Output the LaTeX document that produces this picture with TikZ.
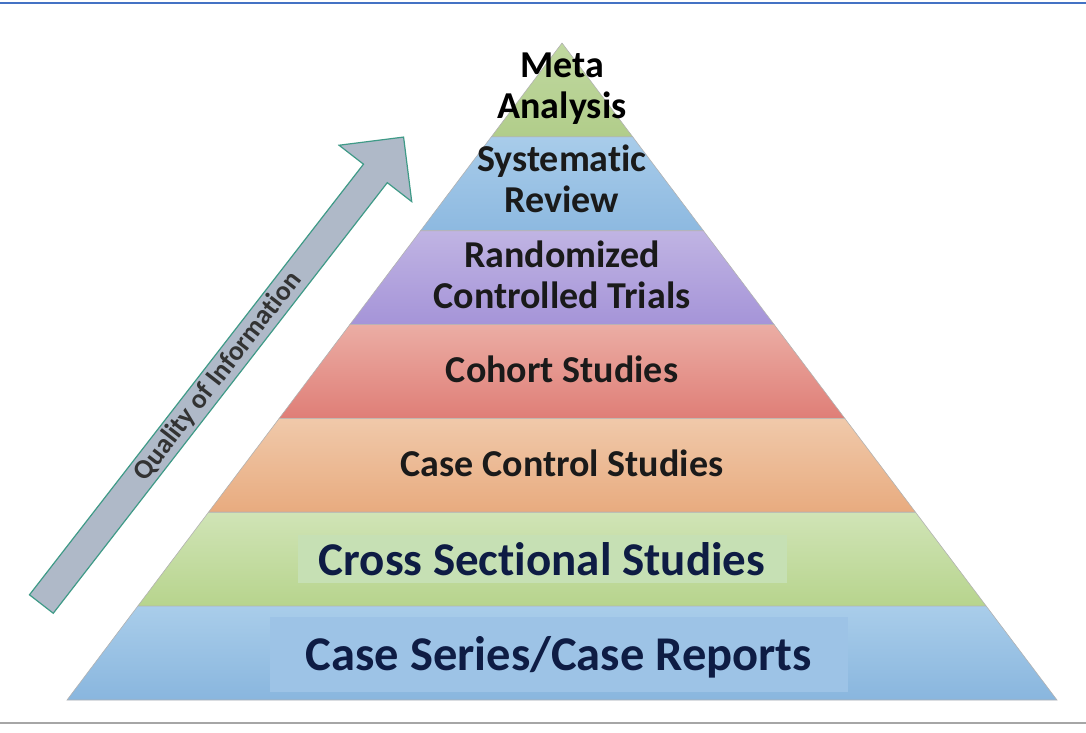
\documentclass[tikz,border=0pt]{standalone}
\usepackage{fontspec}
\setmainfont{Carlito}[Ligatures=NoCommon]
\usepackage{tikz}
\usetikzlibrary{calc,shapes.arrows}

\definecolor{metaT}{HTML}{C0D8A0}
\definecolor{metaB}{HTML}{B1CD8A}
\definecolor{sysT}{HTML}{A8CCEA}
\definecolor{sysB}{HTML}{8DB9E0}
\definecolor{rctT}{HTML}{C0B4E3}
\definecolor{rctB}{HTML}{A594D8}
\definecolor{cohT}{HTML}{EBADA4}
\definecolor{cohB}{HTML}{DF7E77}
\definecolor{ccT}{HTML}{F0C9AA}
\definecolor{ccB}{HTML}{E8AB7F}
\definecolor{csT}{HTML}{D0E4B6}
\definecolor{csB}{HTML}{B7D48D}
\definecolor{serT}{HTML}{A9CDEA}
\definecolor{serB}{HTML}{89B6DE}
\definecolor{csmark}{HTML}{C6E0B4}
\definecolor{sermark}{HTML}{9DC3E6}
\definecolor{txtdark}{HTML}{1A1A1A}
\definecolor{navy}{HTML}{0E1C44}
\definecolor{qfill}{HTML}{AFB9C8}
\definecolor{qedge}{HTML}{3F9A87}
\definecolor{rulebl}{HTML}{4472C4}

\tikzset{
  lvltext/.style={font=\bfseries\fontsize{38}{41}\selectfont, text=txtdark, align=center, inner sep=0pt},
  bigtext/.style={font=\bfseries\fontsize{47}{50}\selectfont, text=navy, inner sep=0pt},
  qarrow/.style={single arrow, fill=qfill, draw=qedge, line width=1.2pt, inner sep=0pt,
    minimum height=591pt, minimum width=92pt, single arrow head extend=25.5pt,
    single arrow tip angle=90, font=\bfseries\fontsize{27.5}{30}\selectfont, text=black!80}
}

\begin{document}
\begin{tikzpicture}[x=1pt,y=-1pt]
			\useasboundingbox (0,0) rectangle (1086,732);
			\draw[rulebl, line width=1.5pt] (0,3)--(1086,3);
			\draw[black!35, line width=1.5pt] (0,723)--(1086,723);
			\coordinate (apex) at (562,43);
			\coordinate (bl) at (67,700);
			\coordinate (br) at (1057,700);
			\foreach \i/\ct/\cb in {0/metaT/metaB,1/sysT/sysB,2/rctT/rctB,3/cohT/cohB,4/ccT/ccB,5/csT/csB,6/serT/serB}{
				\pgfmathsetmacro{\ta}{\i/7}
				\pgfmathsetmacro{\tb}{(\i+1)/7}
				\path[top color=\ct, bottom color=\cb, draw=black!30, line width=0.6pt]
					($(apex)!\ta!(bl)$)--($(apex)!\tb!(bl)$)--($(apex)!\tb!(br)$)--($(apex)!\ta!(br)$)--cycle;
			}
			\fill[csmark] (298,535) rectangle (787,583);
			\fill[sermark] (270,617) rectangle (848,692);
			\node (meta) at (562,118) [lvltext, anchor=base, text=black] {Meta\\Analysis};
			\node (sysrev) at (562,212) [lvltext, anchor=base] {Systematic\\Review};
			\node (rct) at (562,308) [lvltext, anchor=base] {Randomized\\Controlled Trials};
			\node (cohort) at (562,382) [lvltext, anchor=base] {Cohort Studies};
			\node (casectl) at (562,476) [lvltext, anchor=base] {Case Control Studies};
			\node (cross) at (542,575) [bigtext, anchor=base] {Cross Sectional Studies};
			\node (series) at (559,670) [bigtext, anchor=base, font=\bfseries\fontsize{48.5}{50}\selectfont] {Case Series/Case Reports};
			\node (quality) at (41,604.5) [qarrow, anchor=tail, rotate=52.2] {Quality of Information};
		\end{tikzpicture}
\end{document}
